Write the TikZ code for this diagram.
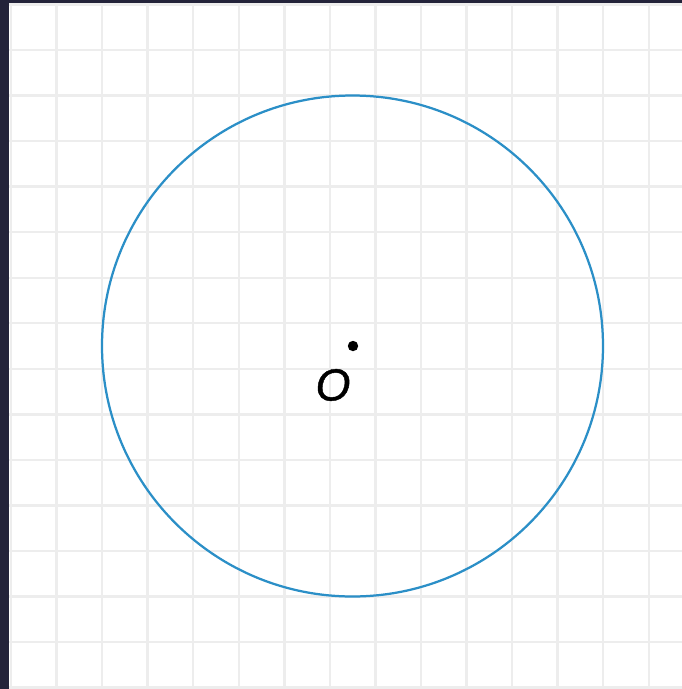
\documentclass[tikz,border=0pt]{standalone}
\usepackage{fontspec}
\setmainfont{Liberation Sans}
\newfontfamily\labfont[FakeBold=1]{Liberation Sans Italic}
\definecolor{frame}{HTML}{23233A}
\definecolor{gridc}{HTML}{EDEDED}
\definecolor{circ}{HTML}{2B8FC7}
\begin{document}
\begin{tikzpicture}[x=0.021954cm, y=-0.021954cm,
  gridline/.style={draw=gridc, line width=1.5pt},
  circline/.style={draw=circ, line width=1.4pt}]
\fill[frame] (0,0) rectangle (682,689);
\useasboundingbox (0,0) rectangle (682,689);
\fill[white] (9,3) rectangle (682,689);
\foreach \k in {0,...,14} {
  \draw[gridline] ({11+45.55*\k},3) -- ({11+45.55*\k},689);
}
\foreach \k in {0,...,15} {
  \draw[gridline] (9,{4.4+45.55*\k}) -- (682,{4.4+45.55*\k});
}
\coordinate (c) at (352.5,346);
\draw[circline] (c) circle[radius=5.5cm];
\node[circle, fill=black, inner sep=0pt, minimum size=6.5pt] (o) at (353,346) {};
\node[font=\fontsize{28}{32}\labfont, inner sep=0pt] (lab) at (333,385) {O};
\end{tikzpicture}
\end{document}
